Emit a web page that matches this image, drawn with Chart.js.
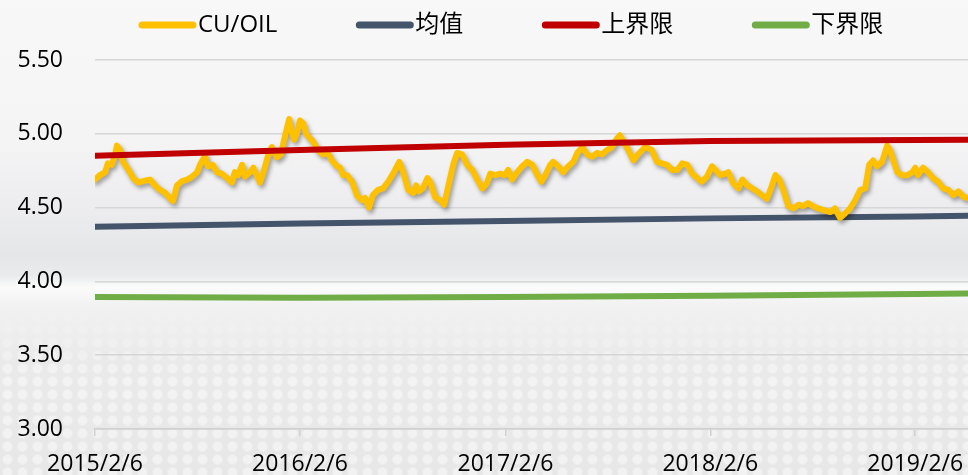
<!DOCTYPE html>
<html>
<head>
<meta charset="utf-8">
<script src="https://cdn.jsdelivr.net/npm/chart.js@4.4.0/dist/chart.umd.min.js"></script>
<style>
    html, body { margin: 0; padding: 0; }
    body {
        width: 968px;
        height: 475px;
        overflow: hidden;
        background: linear-gradient(to bottom,
            #f8f8f8 0%, #f4f4f5 30%, #ececee 45%, #e4e6e8 54%,
            #e9ebec 58%, #fbfbfb 60.5%, #f2f2f2 64%, #eaeaea 75%, #e7e7e7 100%);
        position: relative;
    }
    body::before {
        content: '';
        position: absolute;
        left: 0; right: 0; top: 310px; bottom: 0;
        background-image: radial-gradient(circle, rgba(255,255,255,0.45) 4px, rgba(255,255,255,0) 6px);
        background-size: 15px 13px;
        -webkit-mask-image: linear-gradient(to bottom, transparent 0%, #000 40%);
        mask-image: linear-gradient(to bottom, transparent 0%, #000 40%);
    }
    #wrap { position: relative; width: 968px; height: 475px; }
</style>
</head>
<body>
<div id="wrap"><canvas id="chart" width="968" height="475"></canvas></div>
<script>
// x 轴以 2015/2/6 起算的天数
const tickDays = [0, 365, 731, 1096, 1461];
const tickLabels = ['2015/2/6', '2016/2/6', '2017/2/6', '2018/2/6', '2019/2/6'];

const cuOilDays = [
    0, 9, 18, 23, 30, 36, 39, 45, 50, 59,
    68, 77, 86, 98, 107, 116, 125, 134, 139, 146,
    155, 164, 173, 182, 187, 196, 201, 210, 217, 226,
    235, 244, 249, 255, 262, 267, 276, 282, 289, 294,
    303, 308, 315, 324, 331, 337, 342, 346, 349, 355,
    360, 365, 371, 376, 383, 388, 397, 406, 415, 422,
    431, 437, 442, 449, 458, 467, 476, 481, 488, 495,
    504, 513, 522, 531, 542, 549, 558, 567, 572, 577,
    584, 592, 597, 606, 615, 622, 629, 638, 645, 654,
    663, 672, 681, 690, 698, 704, 713, 722, 730, 736,
    743, 752, 761, 770, 779, 788, 795, 802, 811, 816,
    825, 834, 843, 852, 859, 868, 877, 886, 894, 903,
    912, 921, 930, 935, 941, 950, 959, 967, 980, 992,
    1001, 1010, 1019, 1028, 1037, 1046, 1055, 1064, 1073, 1081,
    1090, 1099, 1105, 1114, 1122, 1128, 1137, 1146, 1153, 1162,
    1171, 1179, 1188, 1197, 1204, 1212, 1219, 1226, 1235, 1244,
    1253, 1261, 1270, 1279, 1288, 1297, 1310, 1318, 1327, 1336,
    1345, 1354, 1363, 1372, 1379, 1386, 1393, 1402, 1411, 1416,
    1422, 1429, 1438, 1447, 1456, 1461, 1466, 1475, 1484, 1493,
    1502, 1511, 1520, 1529, 1538, 1547, 1555
];
const cuOilValues = [
    4.69, 4.72, 4.74, 4.80, 4.79, 4.86, 4.92, 4.89, 4.81, 4.76,
    4.70, 4.67, 4.68, 4.69, 4.65, 4.62, 4.60, 4.56, 4.545, 4.65,
    4.68, 4.69, 4.71, 4.74, 4.79, 4.85, 4.78, 4.79, 4.74, 4.73,
    4.70, 4.67, 4.74, 4.72, 4.79, 4.71, 4.74, 4.77, 4.71, 4.67,
    4.78, 4.85, 4.91, 4.84, 4.86, 4.96, 5.04, 5.10, 5.03, 4.96,
    5.01, 5.09, 5.07, 5.00, 4.97, 4.95, 4.89, 4.86, 4.87, 4.82,
    4.78, 4.77, 4.72, 4.72, 4.675, 4.58, 4.55, 4.565, 4.50, 4.585,
    4.62, 4.63, 4.675, 4.73, 4.81, 4.74, 4.62, 4.60, 4.65, 4.61,
    4.63, 4.70, 4.675, 4.57, 4.55, 4.52, 4.64, 4.79, 4.87, 4.86,
    4.79, 4.755, 4.69, 4.63, 4.665, 4.73, 4.72, 4.73, 4.72, 4.755,
    4.69, 4.74, 4.78, 4.81, 4.79, 4.72, 4.675, 4.72, 4.79, 4.81,
    4.78, 4.74, 4.78, 4.81, 4.87, 4.91, 4.86, 4.845, 4.87, 4.86,
    4.89, 4.91, 4.97, 4.99, 4.95, 4.89, 4.82, 4.86, 4.91, 4.89,
    4.81, 4.80, 4.79, 4.755, 4.755, 4.80, 4.79, 4.73, 4.70, 4.675,
    4.71, 4.78, 4.755, 4.72, 4.73, 4.74, 4.665, 4.63, 4.69, 4.65,
    4.63, 4.61, 4.585, 4.56, 4.63, 4.72, 4.69, 4.62, 4.51, 4.495,
    4.52, 4.51, 4.53, 4.51, 4.495, 4.485, 4.47, 4.495, 4.43, 4.46,
    4.495, 4.55, 4.62, 4.63, 4.79, 4.82, 4.78, 4.81, 4.92, 4.89,
    4.82, 4.74, 4.72, 4.72, 4.74, 4.77, 4.72, 4.77, 4.74, 4.70,
    4.675, 4.63, 4.62, 4.585, 4.61, 4.575, 4.565
];

// 均值和上下界限
const boundDays = [0, 365, 731, 1096, 1461, 1555];
const meanValues = [4.371, 4.393, 4.41, 4.427, 4.44, 4.445];
const upperValues = [4.852, 4.89, 4.925, 4.952, 4.958, 4.96];
const lowerValues = [3.894, 3.889, 3.895, 3.902, 3.914, 3.918];

const FONT = "'Open Sans', 'Noto Sans CJK SC', sans-serif";

const toPoints = (days, values) => days.map((d, i) => ({ x: d, y: values[i] }));

// CU/OIL 线的阴影
const lineShadow = {
    id: 'lineShadow',
    beforeDatasetDraw(chart, args) {
        if (args.index !== 0) return;
        const ctx = chart.ctx;
        ctx.save();
        ctx.shadowColor = 'rgba(0, 0, 0, 0.35)';
        ctx.shadowBlur = 4;
        ctx.shadowOffsetX = 2;
        ctx.shadowOffsetY = 3;
    },
    afterDatasetDraw(chart, args) {
        if (args.index === 0) chart.ctx.restore();
    }
};

// 顶部图例：线段 + 文字，紧挨着
const lineLegend = {
    id: 'lineLegend',
    afterDraw(chart, args, opts) {
        const ctx = chart.ctx;
        ctx.save();
        ctx.font = '24px ' + FONT;
        ctx.textBaseline = 'middle';
        ctx.textAlign = 'left';
        let x = opts.x;
        chart.data.datasets.forEach(ds => {
            ctx.strokeStyle = ds.borderColor;
            ctx.lineWidth = 7;
            ctx.lineCap = 'round';
            ctx.beginPath();
            ctx.moveTo(x + 3, opts.y);
            ctx.lineTo(x + opts.lineLength - 3, opts.y);
            ctx.stroke();
            ctx.fillStyle = '#000';
            ctx.fillText(ds.label, x + opts.lineLength + 2, opts.y);
            x += opts.lineLength + 2 + ctx.measureText(ds.label).width + opts.gap;
        });
        ctx.restore();
    }
};

new Chart(document.getElementById('chart'), {
    type: 'line',
    data: {
        datasets: [{
            label: 'CU/OIL',
            data: toPoints(cuOilDays, cuOilValues),
            borderColor: '#FFC000',
            backgroundColor: '#FFC000',
            borderWidth: 6,
            order: 1
        }, {
            label: '均值',
            data: toPoints(boundDays, meanValues),
            borderColor: '#44546A',
            backgroundColor: '#44546A',
            borderWidth: 6,
            order: 2
        }, {
            label: '上界限',
            data: toPoints(boundDays, upperValues),
            borderColor: '#C00000',
            backgroundColor: '#C00000',
            borderWidth: 6,
            order: 0
        }, {
            label: '下界限',
            data: toPoints(boundDays, lowerValues),
            borderColor: '#70AD47',
            backgroundColor: '#70AD47',
            borderWidth: 6,
            order: 0
        }]
    },
    options: {
        responsive: false,
        animation: false,
        layout: {
            padding: { left: 17, top: 60, right: 0, bottom: 0 }
        },
        elements: {
            point: { radius: 0 },
            line: { tension: 0, borderJoinStyle: 'round', borderCapStyle: 'round', fill: false }
        },
        plugins: {
            legend: { display: false },
            tooltip: { enabled: false },
            lineLegend: { x: 139, y: 25, lineLength: 57, gap: 79 }
        },
        scales: {
            x: {
                type: 'linear',
                min: 0,
                max: 1555,
                afterBuildTicks: axis => {
                    axis.ticks = tickDays.map(v => ({ value: v }));
                },
                afterFit: axis => {
                    axis.height = 46;
                    axis.paddingLeft = 0;
                    axis.paddingRight = 0;
                },
                ticks: {
                    autoSkip: false,
                    maxRotation: 0,
                    padding: 15,
                    color: '#000',
                    font: { family: FONT, size: 23 },
                    callback: value => tickLabels[tickDays.indexOf(value)]
                },
                grid: {
                    drawOnChartArea: false,
                    drawTicks: true,
                    tickLength: 7,
                    color: '#d0d0d0',
                    lineWidth: 1.5
                },
                border: { color: '#d0d0d0', width: 1.5 }
            },
            y: {
                min: 3,
                max: 5.5,
                afterFit: axis => {
                    axis.width = 78;
                },
                ticks: {
                    stepSize: 0.5,
                    padding: 32,
                    color: '#000',
                    font: { family: FONT, size: 23 },
                    callback: value => value.toFixed(2)
                },
                grid: {
                    drawTicks: false,
                    color: '#d6d6d6',
                    lineWidth: 1.5
                },
                border: { display: false }
            }
        }
    },
    plugins: [lineShadow, lineLegend]
});
</script>
</body>
</html>
